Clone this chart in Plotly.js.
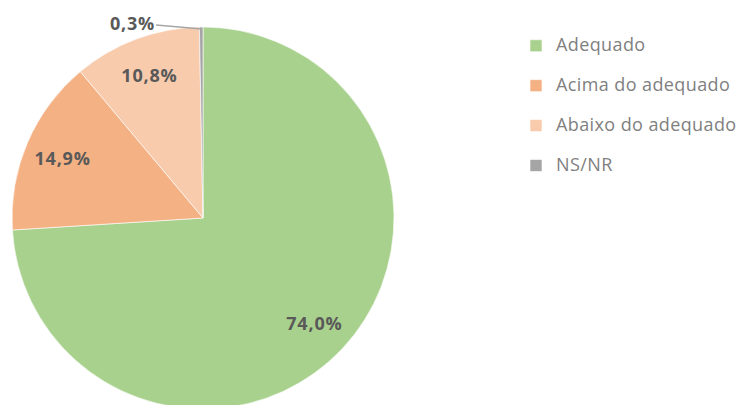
<!DOCTYPE html>
<html>
<head>
<meta charset="utf-8">
<script src="https://cdn.plot.ly/plotly-3.0.1.min.js"></script>
<style>
  html, body { margin: 0; padding: 0; background: #ffffff; overflow: hidden; }
  #chart { width: 760px; height: 410px; }
</style>
</head>
<body>
<div id="chart"></div>
<script>
const categories = ["Adequado", "Acima do adequado", "Abaixo do adequado", "NS/NR"];
const shares = [74.0, 14.9, 10.8, 0.3];
const sliceColors = ["#A9D18E", "#F4B183", "#F8CBAD", "#A5A5A5"];
// the tiny slice gets its label outside, with a leader line
const insideLabel = [true, true, true, false];

const pctText = (v) => (
  `<span style="letter-spacing:0.8px">${v.toFixed(1).replace(".", ",")}%</span>`
);

// legend entries: two-line box so rows sit ~40px apart, visible text at 18px
const legendLabels = categories.map((name) => (
  `<span style="font-size:18px;letter-spacing:0.4px">${name}</span><br> `
));

// paper is a bit wider than the window so the long legend entry doesn't push a margin
const W = 760;
const H = 410;
const pieDomain = { x: [12 / W, 394 / W], y: [1 / H, 383 / H] };
const labelFont = { family: "Open Sans, sans-serif", size: 18, color: "#595959", weight: "bold" };

const data = [
  {
    type: "pie",
    labels: legendLabels,
    values: shares,
    sort: false,
    direction: "clockwise",
    rotation: 0,
    marker: { colors: sliceColors, line: { color: "#ffffff", width: 0.6 } },
    textinfo: "none",
    domain: pieDomain,
    hoverinfo: "none"
  },
  {
    // transparent ring on top, only to place the percentages at ~0.8 r
    type: "pie",
    labels: legendLabels,
    values: shares,
    sort: false,
    direction: "clockwise",
    rotation: 0,
    hole: 0.6,
    showlegend: false,
    marker: { colors: sliceColors.map(() => "rgba(0,0,0,0)"), line: { width: 0 } },
    text: shares.map((v, i) => (insideLabel[i] ? pctText(v) : "")),
    textinfo: "text",
    textposition: "inside",
    insidetextorientation: "horizontal",
    textfont: labelFont,
    domain: pieDomain,
    hoverinfo: "none"
  }
];

const layout = {
  width: W,
  height: H,
  margin: { t: 0, r: 0, b: 0, l: 0 },
  paper_bgcolor: "#ffffff",
  showlegend: true,
  legend: {
    x: 516 / W,
    xanchor: "left",
    y: 1 - 30 / H,
    yanchor: "top",
    valign: "top",
    bgcolor: "rgba(0,0,0,0)",
    font: { family: "Open Sans, sans-serif", size: 14.2, color: "#7F7F7F" }
  },
  annotations: [
    {
      xref: "paper",
      yref: "paper",
      x: 202 / W,
      y: 1 - 29 / H,
      text: pctText(shares[3]),
      showarrow: true,
      arrowhead: 0,
      arrowwidth: 1.5,
      arrowcolor: "#A6A6A6",
      ax: -70,
      ay: -6,
      standoff: 0,
      font: labelFont
    }
  ]
};

Plotly.newPlot("chart", data, layout, { displayModeBar: false, staticPlot: true });
</script>
</body>
</html>
